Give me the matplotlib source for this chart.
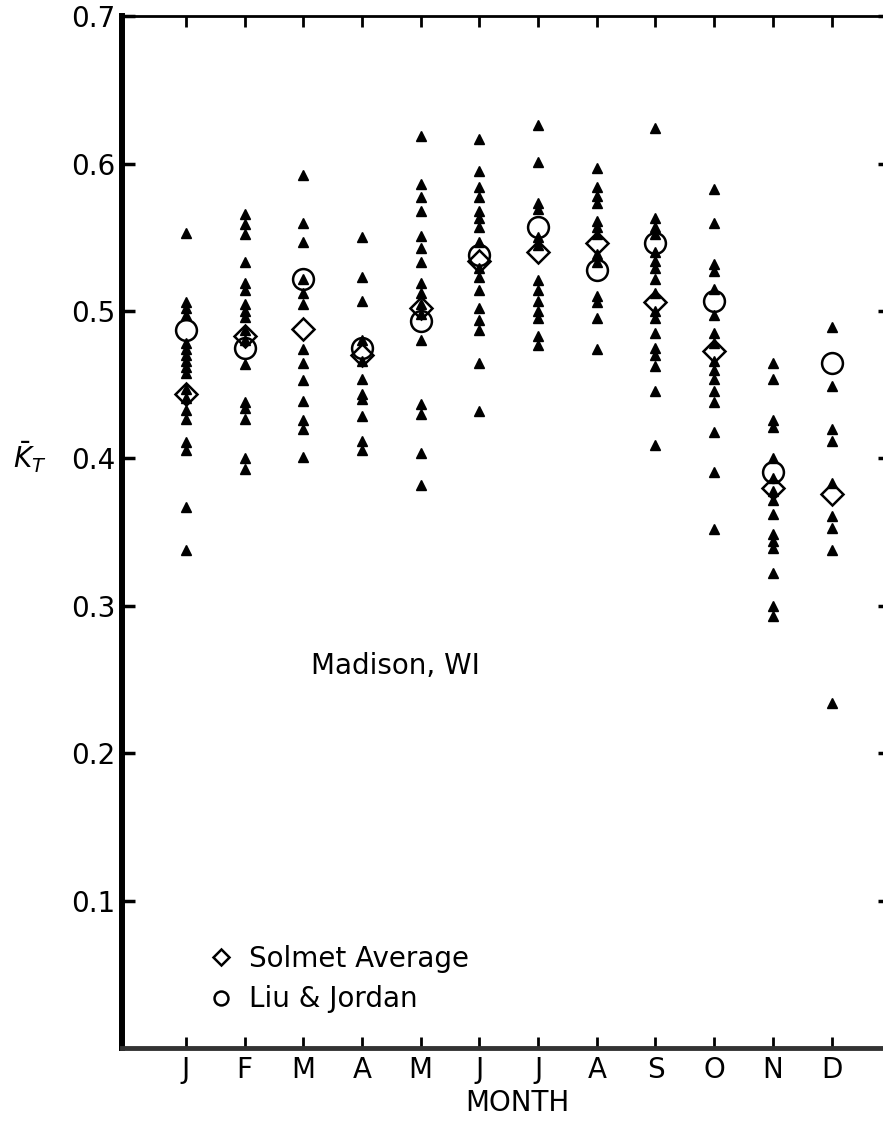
import matplotlib
matplotlib.use("Agg")
import matplotlib.pyplot as plt
from matplotlib.lines import Line2D

# monthly clearness index, one value per year of record
MONTHS = ["J", "F", "M", "A", "M", "J", "J", "A", "S", "O", "N", "D"]

jan = [0.553, 0.506, 0.502, 0.497, 0.478, 0.474, 0.470, 0.466, 0.462, 0.458,
       0.447, 0.441, 0.433, 0.427, 0.411, 0.406, 0.367, 0.338]
feb = [0.566, 0.559, 0.552, 0.533, 0.519, 0.514, 0.505, 0.500, 0.496, 0.487,
       0.480, 0.464, 0.438, 0.434, 0.427, 0.400, 0.393]
mar = [0.592, 0.560, 0.547, 0.522, 0.512, 0.505, 0.474, 0.465, 0.453, 0.439,
       0.426, 0.420, 0.401]
apr = [0.550, 0.523, 0.507, 0.480, 0.466, 0.454, 0.444, 0.440, 0.429, 0.412,
       0.406]
may = [0.619, 0.586, 0.577, 0.568, 0.551, 0.543, 0.533, 0.519, 0.512, 0.505,
       0.498, 0.480, 0.437, 0.430, 0.404, 0.382]
jun = [0.617, 0.595, 0.584, 0.577, 0.568, 0.563, 0.557, 0.547, 0.529, 0.523,
       0.514, 0.502, 0.494, 0.487, 0.465, 0.432]
jul = [0.626, 0.601, 0.573, 0.569, 0.550, 0.545, 0.521, 0.514, 0.507, 0.500,
       0.495, 0.483, 0.477]
aug = [0.597, 0.584, 0.578, 0.573, 0.561, 0.557, 0.552, 0.539, 0.533, 0.510,
       0.506, 0.495, 0.474]
sep = [0.624, 0.563, 0.557, 0.552, 0.540, 0.534, 0.529, 0.522, 0.512, 0.500,
       0.495, 0.485, 0.475, 0.470, 0.463, 0.446, 0.409]
octo = [0.583, 0.560, 0.532, 0.527, 0.515, 0.497, 0.485, 0.478, 0.466, 0.460,
        0.454, 0.446, 0.438, 0.418, 0.391, 0.352]
nov = [0.465, 0.454, 0.426, 0.421, 0.400, 0.387, 0.378, 0.372, 0.362, 0.349,
       0.344, 0.339, 0.322, 0.300, 0.293]
dec = [0.489, 0.449, 0.420, 0.412, 0.383, 0.361, 0.353, 0.338, 0.234]

yearly = [jan, feb, mar, apr, may, jun, jul, aug, sep, octo, nov, dec]

solmet = [0.444, 0.483, 0.488, 0.470, 0.502, 0.534,
          0.540, 0.546, 0.506, 0.473, 0.380, 0.376]
liu_jordan = [0.487, 0.475, 0.522, 0.475, 0.493, 0.538,
              0.557, 0.528, 0.546, 0.507, 0.391, 0.465]

YTICKS = [0.1, 0.2, 0.3, 0.4, 0.5, 0.6, 0.7]
YLABELS = ["0.1", "0.2", "0.3", "0.4", "0.5", "0.6", "0.7"]

plt.rcParams["font.family"] = ["DejaVu Sans"]

fig = plt.figure(figsize=(8.83, 11.24), dpi=100)
# right edge runs a little past the page, as on the original sheet
ax = fig.add_axes([0.1382, 0.0676, 0.870, 0.918])

xs = list(range(1, 13))
tx, ty = [], []
for m, vals in zip(xs, yearly):
    tx += [m] * len(vals)
    ty += vals
ax.plot(tx, ty, ls="none", marker="^", ms=6.5, color="black", zorder=3)
ax.plot(xs, liu_jordan, ls="none", marker="o", ms=15, mfc="none",
        mec="black", mew=1.8, zorder=4)
ax.plot(xs, solmet, ls="none", marker="D", ms=11, mfc="none",
        mec="black", mew=1.8, zorder=4)

ax.set_xlim(-0.09, 13.0)
ax.set_ylim(0, 0.7)

ax.set_xticks(xs)
ax.set_xticklabels(MONTHS, fontsize=20)
ax.set_yticks(YTICKS)
ax.set_yticklabels(YLABELS, fontsize=20)
ax.tick_params(axis="x", direction="in", top=True, bottom=True, length=8,
               width=2, pad=6)
ax.tick_params(axis="y", direction="in", left=True, right=True, length=9,
               width=2.5, pad=5)

ax.spines["left"].set_linewidth(4.3)
ax.spines["bottom"].set_linewidth(3.5)
ax.spines["bottom"].set_color("#333333")
ax.spines["top"].set_linewidth(2)
ax.spines["right"].set_visible(False)

ax.set_xlabel("MONTH", fontsize=20)
ax.xaxis.set_label_coords(0.515, -0.04)
ax.set_ylabel(r"$\bar{K}_T$", fontsize=20, rotation=0, labelpad=0)
ax.yaxis.set_label_coords(-0.12, 0.555)

ax.text(4.57, 0.259, "Madison, WI", fontsize=20, ha="center", va="center")

handles = [
    Line2D([], [], ls="none", marker="D", ms=8, mfc="none", mec="black", mew=1.8),
    Line2D([], [], ls="none", marker="o", ms=10, mfc="none", mec="black", mew=1.8),
]
ax.legend(handles, ["Solmet Average", "Liu & Jordan"], loc="lower left",
          bbox_to_anchor=(0.1, 0.02), frameon=False, fontsize=20,
          handlelength=0.6, handletextpad=0.7, labelspacing=0.45,
          borderpad=0)

fig.savefig("out.png", dpi=100)
